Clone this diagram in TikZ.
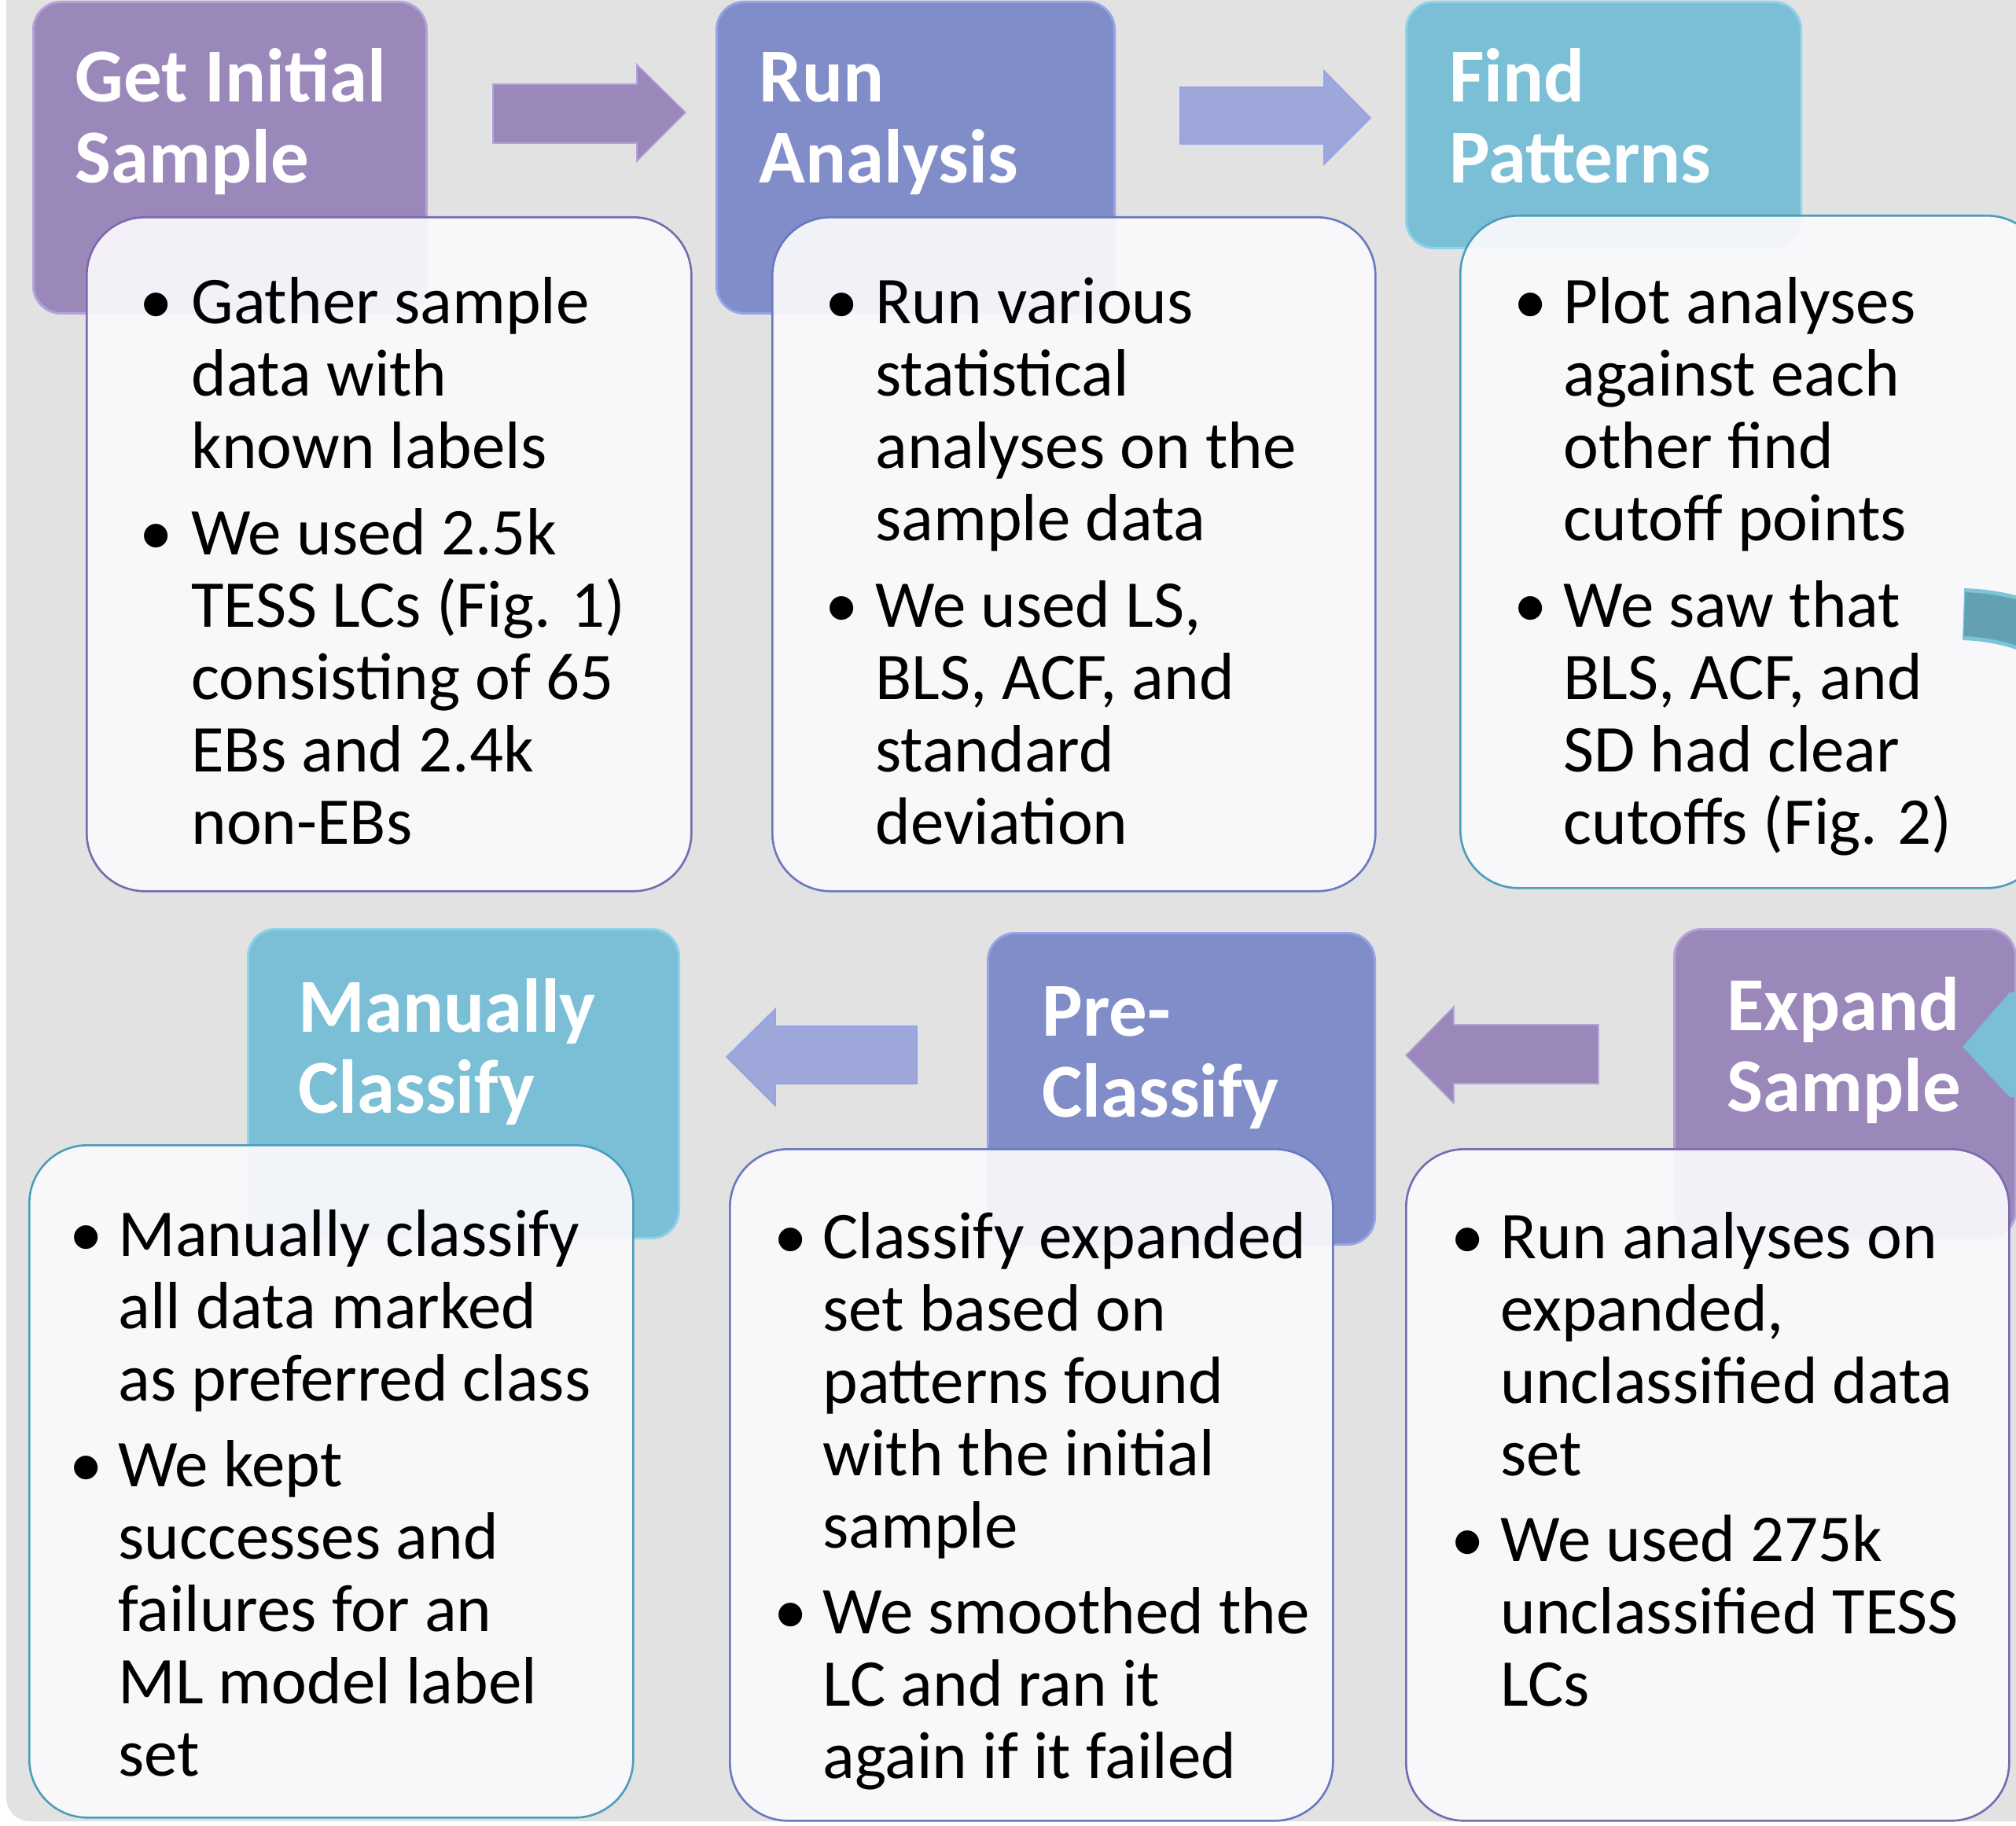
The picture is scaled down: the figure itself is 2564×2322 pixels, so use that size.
\documentclass[tikz,border=0pt]{standalone}
\usepackage{fontspec}
\setmainfont{Carlito}
\definecolor{bg}{HTML}{E2E2E2}
\definecolor{purp}{HTML}{9B88BB}
\definecolor{purpedge}{HTML}{B3A3D9}
\definecolor{purpline}{HTML}{7B68AE}
\definecolor{blu}{HTML}{808DC8}
\definecolor{bluedge}{HTML}{97A3E6}
\definecolor{blueline}{HTML}{6A78BE}
\definecolor{cyn}{HTML}{7BBFD7}
\definecolor{cynedge}{HTML}{8ED3EC}
\definecolor{cynline}{HTML}{4C9DBA}
\definecolor{lightarrow}{HTML}{9DA7D9}
\definecolor{bodyfill}{HTML}{FAF9FC}
\definecolor{tealband}{HTML}{62A0B2}
\definecolor{tealedge}{HTML}{7CC4DA}
\newcommand\titlefont{\fontsize{48.5}{51.5}\selectfont\bfseries}
\newcommand\bodyfont{\fontsize{42.5}{46}\selectfont}
\newcommand\lns[1]{\begin{tabular}[t]{@{}l@{}}#1\end{tabular}}
\tikzset{
  hdr/.style={rounded corners=17.5pt, line width=1.5pt, anchor=north west, inner sep=0pt},
  bodybox/.style={rounded corners=37pt, fill=bodyfill, fill opacity=0.93, line width=1.3pt, anchor=north west, inner sep=0pt},
  ttl/.style={anchor=base west, inner sep=0pt, text=white, font=\titlefont},
  txt/.style={anchor=base west, inner sep=0pt, font=\bodyfont},
  bul/.style={anchor=base, inner sep=0pt, font=\bodyfont},
  blockarrow/.style={line width=0.8pt}
}
\begin{document}
\begin{tikzpicture}[x=0.5pt,y=-0.5pt]
\useasboundingbox (0,0) rectangle (2564,2322);
\clip (0,0) rectangle (2564,2322);
\fill[white] (0,0) rectangle (2564,2322);
\fill[bg, rounded corners=15pt] (8,-60) rectangle (2640,2316);

% ---------- top row ----------
\node[hdr, fill=purp, draw=purpedge, minimum width=250pt, minimum height=198pt] (h1) at (41,1) {};
\node[hdr, fill=blu, draw=bluedge, minimum width=253pt, minimum height=198pt] (h2) at (910,1) {};
\node[hdr, fill=cyn, draw=cynedge, minimum width=251pt, minimum height=156.5pt] (h3) at (1787,1) {};

\node[ttl] (t1) at (95,130) {\lns{Get Initial\\Sample}};
\node[ttl] (t2) at (965,130) {\lns{Run\\Analysis}};
\node[ttl] (t3) at (1843,130) {\lns{Find\\Patterns}};

\node[bodybox, draw=purpline, minimum width=384.5pt, minimum height=428.5pt] (b1) at (109,275) {};
\node[bodybox, draw=blueline, minimum width=383.5pt, minimum height=428.5pt] (b2) at (981,275) {};
\node[bodybox, draw=cynline, minimum width=372pt, minimum height=427.5pt] (b3) at (1856,273) {};

% arrows top
\fill[purp, draw=purpedge, blockarrow] (627,107) -- (810,107) -- (810,82) -- (872,143) -- (810,205) -- (810,182) -- (627,182) -- cycle;
\fill[lightarrow, draw=bluedge, blockarrow] (1501,111) -- (1684,111) -- (1684,90) -- (1743,150) -- (1684,209) -- (1684,183) -- (1501,183) -- cycle;

% body 1
\node[bul] (b1i1) at (199,412) {•};
\node[txt] (b1t1) at (243,412) {\lns{Gather sample\\data with\\known labels}};
\node[bul] (b1i2) at (199,705) {•};
\node[txt] (b1t2) at (243,705) {\lns{We used 2.5k\\TESS LCs (Fig. 1)\\consisting of 65\\EBs and 2.4k\\non-EBs}};
% body 2
\node[bul] (b2i1) at (1071,412) {•};
\node[txt] (b2t1) at (1113,412) {\lns{Run various\\statistical\\analyses on the\\sample data}};
\node[bul] (b2i2) at (1071,797) {•};
\node[txt] (b2t2) at (1113,797) {\lns{We used LS,\\BLS, ACF, and\\standard\\deviation}};
% body 3
\node[bul] (b3i1) at (1947,412) {•};
\node[txt] (b3t1) at (1988,412) {\lns{Plot analyses\\against each\\other find\\cutoff points}};
\node[bul] (b3i2) at (1947,797) {•};
\node[txt] (b3t2) at (1988,797) {\lns{We saw that\\BLS, ACF, and\\SD had clear\\cutoffs (Fig. 2)}};

% ---------- bottom row ----------
\node[hdr, fill=cyn, draw=cynedge, minimum width=274pt, minimum height=196.5pt] (h4) at (314,1180) {};
\node[hdr, fill=blu, draw=bluedge, minimum width=246pt, minimum height=198pt] (h5) at (1255,1185) {};
\node[hdr, fill=purp, draw=purpedge, minimum width=217pt, minimum height=196.5pt] (h6) at (2128,1180) {};

\node[ttl] (t4) at (379,1312) {\lns{Manually\\Classify}};
\node[ttl] (t5) at (1325,1317) {\lns{Pre-\\Classify}};
\node[ttl] (t6) at (2196,1310) {\lns{Expand\\Sample}};

\node[bodybox, draw=cynline, minimum width=384pt, minimum height=427.5pt] (b4) at (36,1455) {};
\node[bodybox, draw=blueline, minimum width=383.5pt, minimum height=427pt] (b5) at (927,1460) {};
\node[bodybox, draw=purpline, minimum width=383.5pt, minimum height=427pt] (b6) at (1787,1460) {};

% arrows bottom
\fill[lightarrow, draw=bluedge, blockarrow] (1166,1305) -- (986,1305) -- (986,1283) -- (924,1344) -- (986,1406) -- (986,1378) -- (1166,1378) -- cycle;
\fill[purp, draw=purpedge, blockarrow] (2033,1303) -- (1849,1303) -- (1849,1280) -- (1788,1342) -- (1849,1403) -- (1849,1378) -- (2033,1378) -- cycle;

% curved arrow on the right
\draw[tealedge, line width=33pt] (2490,1051) ++(-88.5:270) arc[start angle=-88.5, end angle=77, radius=270];
\draw[tealband, line width=28pt] (2490,1051) ++(-88.2:270) arc[start angle=-88.2, end angle=77, radius=270];
\fill[cyn] (2556,1262) -- (2496,1331) -- (2556,1395) -- (2600,1395) -- (2600,1262) -- cycle;

% body 4
\node[bul] (b4i1) at (110,1597) {•};
\node[txt] (b4t1) at (150,1597) {\lns{Manually classify\\all data marked\\as preferred class}};
\node[bul] (b4i2) at (110,1890) {•};
\node[txt] (b4t2) at (150,1890) {\lns{We kept\\successes and\\failures for an\\ML model label\\set}};
% body 5
\node[bul] (b5i1) at (1006,1600) {•};
\node[txt] (b5t1) at (1046,1600) {\lns{Classify expanded\\set based on\\patterns found\\with the initial\\sample}};
\node[bul] (b5i2) at (1006,2077) {•};
\node[txt] (b5t2) at (1046,2077) {\lns{We smoothed the\\LC and ran it\\again if it failed}};
% body 6
\node[bul] (b6i1) at (1867,1600) {•};
\node[txt] (b6t1) at (1908,1600) {\lns{Run analyses on\\expanded,\\unclassified data\\set}};
\node[bul] (b6i2) at (1867,1985) {•};
\node[txt] (b6t2) at (1908,1985) {\lns{We used 275k\\unclassified TESS\\LCs}};
\end{tikzpicture}
\end{document}
